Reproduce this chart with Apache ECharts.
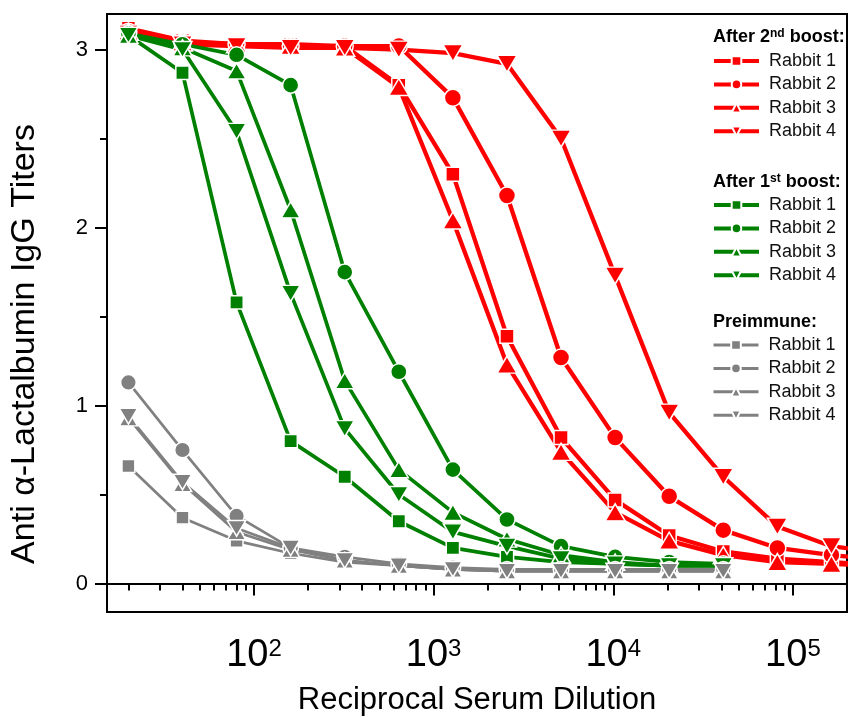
<!DOCTYPE html>
<html>
<head>
<meta charset="utf-8">
<title>Anti α-Lactalbumin IgG Titers</title>
<script src="https://cdn.jsdelivr.net/npm/echarts@6/dist/echarts.min.js"></script>
<style>
    html, body { margin: 0; padding: 0; background: #fff; }
    #chart { width: 848px; height: 717px; }
</style>
</head>
<body>
<div id="chart"></div>
<script>
// reciprocal serum dilutions (2-fold series from 1:20)
const dilutions = [20, 40, 80, 160, 320, 640, 1280, 2560, 5120, 10240, 20480, 40960, 81920, 163840, 327680];

// after 2nd boost
const boost2Rabbit1 = [3.12, 3.05, 3.03, 3.03, 3.02, 2.80, 2.30, 1.39, 0.82, 0.47, 0.27, 0.18, 0.14, 0.12, 0.10];
const boost2Rabbit2 = [3.10, 3.04, 3.03, 3.02, 3.02, 3.02, 2.73, 2.18, 1.27, 0.82, 0.49, 0.30, 0.20, 0.16, 0.13];
const boost2Rabbit3 = [3.10, 3.04, 3.03, 3.02, 3.01, 2.79, 2.04, 1.23, 0.74, 0.40, 0.24, 0.16, 0.12, 0.11, 0.10];
const boost2Rabbit4 = [3.09, 3.03, 3.02, 3.01, 3.01, 3.00, 2.98, 2.92, 2.50, 1.73, 0.96, 0.60, 0.32, 0.21, 0.17];

// after 1st boost
const boost1Rabbit1 = [3.08, 2.87, 1.58, 0.80, 0.60, 0.35, 0.20, 0.15, 0.12, 0.11, 0.10, 0.10];
const boost1Rabbit2 = [3.09, 3.03, 2.97, 2.80, 1.75, 1.19, 0.64, 0.36, 0.21, 0.15, 0.12, 0.11];
const boost1Rabbit3 = [3.08, 3.01, 2.88, 2.10, 1.14, 0.64, 0.40, 0.25, 0.16, 0.12, 0.10, 0.10];
const boost1Rabbit4 = [3.08, 3.00, 2.54, 1.63, 0.87, 0.50, 0.29, 0.21, 0.14, 0.11, 0.10, 0.10];

// preimmune
const preRabbit1 = [0.66, 0.37, 0.24, 0.17, 0.12, 0.10, 0.08, 0.07, 0.07, 0.07, 0.07, 0.07];
const preRabbit2 = [1.13, 0.75, 0.38, 0.20, 0.15, 0.11, 0.09, 0.08, 0.08, 0.08, 0.08, 0.08];
const preRabbit3 = [0.93, 0.56, 0.29, 0.19, 0.13, 0.10, 0.08, 0.07, 0.07, 0.07, 0.07, 0.07];
const preRabbit4 = [0.94, 0.57, 0.31, 0.20, 0.13, 0.10, 0.08, 0.07, 0.07, 0.07, 0.07, 0.07];

// axis ticks
const xMajorTicks = [100, 1000, 10000, 100000];
const xMinorTicks = [20, 30, 40, 50, 60, 70, 80, 90,
    200, 300, 400, 500, 600, 700, 800, 900,
    2000, 3000, 4000, 5000, 6000, 7000, 8000, 9000,
    20000, 30000, 40000, 50000, 60000, 70000, 80000, 90000];
const yMajorTicks = [0, 1, 2, 3];
const yMinorTicks = [0.5, 1.5, 2.5];

const rabbits = ['Rabbit 1', 'Rabbit 2', 'Rabbit 3', 'Rabbit 4'];

const FONT = '"Liberation Sans", Arial, Helvetica, sans-serif';
const RED = '#ff0000';
const GREEN = '#008000';
const GRAY = '#808080';

// square, circle, triangle, down triangle
const markers = [
    { symbol: 'rect', size: 14, rotate: 0 },
    { symbol: 'circle', size: 17, rotate: 0 },
    { symbol: 'triangle', size: [20, 17], rotate: 0 },
    { symbol: 'triangle', size: [20, 17], rotate: 180 }
];

const scaleSize = (size, k) => Array.isArray(size) ? size.map(s => s * k) : size * k;

const makeSeries = (group, values, idx, color, lineWidth, k) => {
    const m = markers[idx];
    return {
        name: `${rabbits[idx]} (${group})`,
        type: 'line',
        data: values.map((v, i) => [dilutions[i], v]),
        symbol: m.symbol,
        symbolSize: scaleSize(m.size, k),
        symbolRotate: m.rotate,
        showAllSymbol: true,
        clip: true,
        lineStyle: { color: color, width: lineWidth },
        itemStyle: { color: color, borderColor: '#fff', borderWidth: 1.5 },
        emphasis: { disabled: true },
        animation: false
    };
};

const series = [
    makeSeries('2nd', boost2Rabbit1, 0, RED, 4.3, 1),
    makeSeries('2nd', boost2Rabbit2, 1, RED, 4.3, 1),
    makeSeries('2nd', boost2Rabbit3, 2, RED, 4.3, 1),
    makeSeries('2nd', boost2Rabbit4, 3, RED, 4.3, 1),
    makeSeries('1st', boost1Rabbit1, 0, GREEN, 3.7, 0.95),
    makeSeries('1st', boost1Rabbit2, 1, GREEN, 3.7, 0.95),
    makeSeries('1st', boost1Rabbit3, 2, GREEN, 3.7, 0.95),
    makeSeries('1st', boost1Rabbit4, 3, GREEN, 3.7, 0.95),
    makeSeries('pre', preRabbit1, 0, GRAY, 2.7, 0.92),
    makeSeries('pre', preRabbit2, 1, GRAY, 2.7, 0.92),
    makeSeries('pre', preRabbit3, 2, GRAY, 2.7, 0.92),
    makeSeries('pre', preRabbit4, 3, GRAY, 2.7, 0.92)
];

const makeLegend = (group, top, lineWidth) => ({
    orient: 'vertical',
    left: 712,
    top: top,
    padding: 0,
    itemGap: 5.4,
    itemWidth: 45,
    itemHeight: 12,
    selectedMode: false,
    data: rabbits.map(r => `${r} (${group})`),
    formatter: name => name.split(' (')[0],
    lineStyle: { width: lineWidth },
    itemStyle: { borderWidth: 2 },
    textStyle: { fontFamily: FONT, fontSize: 18, color: '#111', padding: [0, 0, 0, 5] }
});

const headerStyle = (text) => ({
    text: text,
    font: `bold 18px ${FONT}`,
    fill: '#000',
    align: 'left',
    verticalAlign: 'middle',
    rich: {
        sup: { fontFamily: FONT, fontWeight: 'bold', fontSize: 12, lineHeight: 6, verticalAlign: 'top' }
    }
});

const axisLineStyle = { color: '#000', width: 2 };

const option = {
    backgroundColor: '#fff',
    animation: false,
    grid: {
        left: 107,
        right: 1,
        top: 14,
        bottom: 105,
        show: true,
        borderColor: '#000',
        borderWidth: 2,
        containLabel: false,
        outerBoundsMode: 'none'
    },
    xAxis: [
        {
            type: 'log',
            logBase: 10,
            min: 15.2,
            max: 200000,
            position: 'bottom',
            name: 'Reciprocal Serum Dilution',
            nameLocation: 'middle',
            nameGap: 73,
            nameTextStyle: { fontFamily: FONT, fontSize: 31, color: '#000' },
            axisLine: { show: true, lineStyle: axisLineStyle },
            axisTick: { show: true, inside: false, length: 12, customValues: xMajorTicks, lineStyle: axisLineStyle },
            axisLabel: {
                show: true,
                customValues: xMajorTicks,
                margin: 25,
                fontFamily: FONT,
                fontSize: 38,
                color: '#000',
                formatter: v => '10{sup|' + Math.round(Math.log10(v)) + '}',
                rich: {
                    sup: { fontFamily: FONT, fontSize: 24, lineHeight: 12, verticalAlign: 'top', color: '#000' }
                }
            },
            splitLine: { show: false },
            minorTick: { show: false },
            minorSplitLine: { show: false }
        },
        {
            // minor ticks only
            type: 'log',
            logBase: 10,
            min: 15.2,
            max: 200000,
            position: 'bottom',
            axisLine: { show: false },
            axisTick: { show: true, inside: false, length: 7, customValues: xMinorTicks, lineStyle: axisLineStyle },
            axisLabel: { show: false },
            splitLine: { show: false }
        }
    ],
    yAxis: [
        {
            type: 'value',
            min: -0.16,
            max: 3.2,
            position: 'left',
            axisLine: { show: true, lineStyle: axisLineStyle },
            axisTick: { show: true, inside: false, length: 12, customValues: yMajorTicks, lineStyle: axisLineStyle },
            axisLabel: {
                show: true,
                customValues: yMajorTicks,
                margin: 19,
                fontFamily: FONT,
                fontSize: 22,
                color: '#000'
            },
            splitLine: { show: false }
        },
        {
            // minor ticks only
            type: 'value',
            min: -0.16,
            max: 3.2,
            position: 'left',
            axisLine: { show: false },
            axisTick: { show: true, inside: false, length: 7, customValues: yMinorTicks, lineStyle: axisLineStyle },
            axisLabel: { show: false },
            splitLine: { show: false }
        }
    ],
    legend: [
        makeLegend('2nd', 52, 4),
        makeLegend('1st', 196, 4),
        makeLegend('pre', 336, 3)
    ],
    graphic: [
        {
            type: 'text',
            x: 25,
            y: 344,
            rotation: Math.PI / 2,
            style: {
                text: 'Anti α-Lactalbumin IgG Titers',
                font: `34px ${FONT}`,
                fill: '#000',
                align: 'center',
                verticalAlign: 'middle'
            }
        },
        { type: 'text', x: 713, y: 37, style: headerStyle('After 2{sup|nd} boost:') },
        { type: 'text', x: 713, y: 182, style: headerStyle('After 1{sup|st} boost:') },
        { type: 'text', x: 713, y: 322, style: headerStyle('Preimmune:') }
    ],
    series: series
};

const chart = echarts.init(document.getElementById('chart'), null, { renderer: 'canvas' });
chart.setOption(option);
</script>
</body>
</html>
